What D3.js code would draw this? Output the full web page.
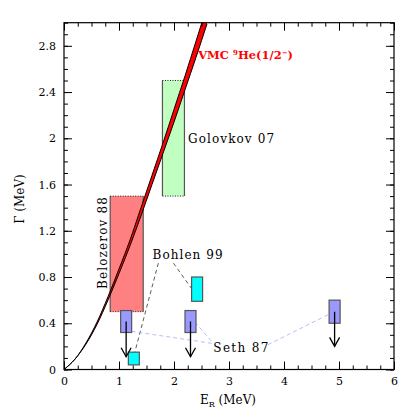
<!DOCTYPE html>
<html><head><meta charset="utf-8">
<script src="https://cdn.jsdelivr.net/npm/d3@7"></script>
<style>body{margin:0;background:#fff}svg{display:block}text{font-family:"DejaVu Serif",serif;}</style>
</head><body>
<svg id="c" width="415" height="415"></svg>
<script>
// VMC band (E_R in MeV, Gamma in MeV)
const curveE     = [0, 0.2, 0.4, 0.6, 0.8, 1.0, 1.2, 1.4, 1.6, 1.8, 2.0, 2.2, 2.4, 2.6];
const curveLow   = [0, 0.09, 0.22, 0.39, 0.60, 0.83, 1.07, 1.33, 1.60, 1.87, 2.14, 2.42, 2.70, 2.99];
const curveHigh  = [0, 0.09, 0.23, 0.41, 0.63, 0.87, 1.12, 1.40, 1.68, 1.96, 2.25, 2.54, 2.84, 3.14];
// experimental boxes: [E0, E1, G0, G1]
const belozerov = [0.84, 1.44, 0.50, 1.50];
const golovkov  = [1.79, 2.19, 1.50, 2.50];
const sethBoxes = [[1.03, 1.23, 0.32, 0.51], [2.20, 2.40, 0.32, 0.51], [4.82, 5.02, 0.40, 0.60]];
const sethArrowTips = [0.11, 0.11, 0.20];
const bohlenBoxes = [[1.17, 1.37, 0.04, 0.15], [2.32, 2.52, 0.59, 0.80]];
const xTicks = [0, 1, 2, 3, 4, 5, 6];
const yTicks = [0, 0.4, 0.8, 1.2, 1.6, 2, 2.4, 2.8];
// annotation leader lines [E0,G0,E1,G1]
const bohlenLines = [[1.715, 0.92, 1.29, 0.154], [1.99, 0.92, 2.32, 0.70]];
const sethLines = [[1.23, 0.33, 2.71, 0.225], [2.38, 0.41, 2.71, 0.23], [3.71, 0.215, 4.87, 0.49]];

const svg = d3.select("#c");
const x = d3.scaleLinear([0, 6], [64, 394]);
const y = d3.scaleLinear([0, 3], [369.5, 22.7]);

svg.append("defs").append("clipPath").attr("id", "clip")
  .append("rect").attr("x", x(0)).attr("y", y(3)).attr("width", x(6) - x(0)).attr("height", y(0) - y(3));

const plot = svg.append("g").attr("clip-path", "url(#clip)");

function box(b, fill, dottedTB) {
  const g = plot.append("g");
  g.append("rect").attr("x", x(b[0])).attr("y", y(b[3])).attr("width", x(b[1]) - x(b[0])).attr("height", y(b[2]) - y(b[3]))
    .attr("fill", fill).attr("stroke", dottedTB ? "none" : "#555").attr("stroke-width", 1.2);
  if (dottedTB) {
    g.append("line").attr("x1", x(b[0])).attr("x2", x(b[0])).attr("y1", y(b[2])).attr("y2", y(b[3])).attr("stroke", "#555").attr("stroke-width", 1.2);
    g.append("line").attr("x1", x(b[1])).attr("x2", x(b[1])).attr("y1", y(b[2])).attr("y2", y(b[3])).attr("stroke", "#555").attr("stroke-width", 1.2);
    [b[2], b[3]].forEach(v => g.append("line").attr("x1", x(b[0])).attr("x2", x(b[1])).attr("y1", y(v)).attr("y2", y(v))
      .attr("stroke", "#000").attr("stroke-width", 0.9).attr("stroke-dasharray", "1,1.5"));
  }
}
box(belozerov, "#ff8080", true);
box(golovkov, "#c0ffc0", true);

// VMC band
const pts = curveE.map((e, i) => ({e, lo: curveLow[i], hi: curveHigh[i]}));
plot.append("path").datum(pts)
  .attr("d", d3.area().x(d => x(d.e)).y0(d => y(d.lo)).y1(d => y(d.hi)).curve(d3.curveMonotoneX))
  .attr("fill", "#ff0000").attr("stroke", "none");
["lo", "hi"].forEach(k => plot.append("path").datum(pts)
  .attr("d", d3.line().x(d => x(d.e)).y(d => y(d[k])).curve(d3.curveMonotoneX))
  .attr("fill", "none").attr("stroke", "#000").attr("stroke-width", 1));

// leader lines
bohlenLines.forEach(l => plot.append("line").attr("x1", x(l[0])).attr("y1", y(l[1])).attr("x2", x(l[2])).attr("y2", y(l[3]))
  .attr("stroke", "#333").attr("stroke-width", 0.8).attr("stroke-dasharray", "4,3"));
sethLines.forEach(l => plot.append("line").attr("x1", x(l[0])).attr("y1", y(l[1])).attr("x2", x(l[2])).attr("y2", y(l[3]))
  .attr("stroke", "#a8a8ff").attr("stroke-width", 0.8).attr("stroke-dasharray", "4,3"));

bohlenBoxes.forEach(b => box(b, "#00ffff", false));
sethBoxes.forEach((b, i) => {
  box(b, "#9999ff", false);
  const cx = x((b[0] + b[1]) / 2), top = y((b[2] + b[3]) / 2), tip = y(sethArrowTips[i]);
  plot.append("line").attr("x1", cx).attr("x2", cx).attr("y1", top).attr("y2", tip).attr("stroke", "#000").attr("stroke-width", 1.3);
  plot.append("path").attr("d", `M${cx - 5},${tip - 9}L${cx},${tip}L${cx + 5},${tip - 9}`)
    .attr("fill", "none").attr("stroke", "#000").attr("stroke-width", 1.3);
});

// frame + ticks
svg.append("rect").attr("x", x(0)).attr("y", y(3)).attr("width", x(6) - x(0)).attr("height", y(0) - y(3))
  .attr("fill", "none").attr("stroke", "#000").attr("stroke-width", 1.2);

function axis(gen, tf, ticks, minor, labels) {
  const gMin = svg.append("g").attr("transform", tf).call(gen.tickValues(minor).tickSize(-4).tickFormat(""));
  gMin.select(".domain").remove();
  const gMaj = svg.append("g").attr("transform", tf).call(gen.tickValues(ticks).tickSize(-8).tickPadding(labels ? 8 : 0).tickFormat(labels ? d3.format("") : ""));
  gMaj.select(".domain").remove();
  gMaj.selectAll("text").attr("font-family", "DejaVu Serif").attr("font-size", 11).attr("fill", "#000");
  svg.selectAll(".tick line").attr("stroke", "#000").attr("stroke-width", 1);
}
const xMinor = d3.range(0, 6.001, 0.25);
const yMinor = d3.range(0, 3.001, 0.1);
const yMajor = d3.range(0, 3.001, 0.4);
axis(d3.axisBottom(x), `translate(0,${y(0)})`, xTicks, xMinor, true);
axis(d3.axisTop(x), `translate(0,${y(3)})`, xTicks, xMinor, false);
axis(d3.axisLeft(y), `translate(${x(0)},0)`, yTicks, yMinor, true);
axis(d3.axisRight(y), `translate(${x(6)},0)`, yMajor, yMinor, false);

// axis titles
const yt = svg.append("text").attr("transform", `translate(24,199) rotate(-90)`).attr("text-anchor", "middle")
  .attr("font-size", 12).text("Γ (MeV)");
const xt = svg.append("text").attr("x", 200).attr("y", 404).attr("font-size", 12);
xt.append("tspan").text("E");
xt.append("tspan").attr("font-size", 8).attr("dy", 3).text("R");
xt.append("tspan").attr("dy", -3).text(" (MeV)");

// labels
const vmc = svg.append("text").attr("x", x(2.44)).attr("y", y(2.683)).attr("fill", "#ff0000").attr("font-size", 11.5).attr("font-weight", "bold");
vmc.append("tspan").text("VMC ");
vmc.append("tspan").attr("font-size", 7).attr("dy", -4).text("9");
vmc.append("tspan").attr("dy", 4).text("He(1/2");
vmc.append("tspan").attr("font-size", 7).attr("dy", -4).text("−");
vmc.append("tspan").attr("dy", 4).text(")");

svg.append("text").attr("x", x(2.255)).attr("y", y(1.957)).attr("font-size", 12)
  .attr("textLength", 86).attr("lengthAdjust", "spacing").text("Golovkov 07");
svg.append("text").attr("transform", `translate(${x(0.718) + 4},${y(1.094)}) rotate(-90)`).attr("text-anchor", "middle")
  .attr("font-size", 12).attr("textLength", 92).attr("lengthAdjust", "spacing").text("Belozerov 88");
svg.append("text").attr("x", x(1.61)).attr("y", y(0.956)).attr("font-size", 12)
  .attr("textLength", 70).attr("lengthAdjust", "spacing").text("Bohlen 99");
svg.append("text").attr("x", x(2.715)).attr("y", y(0.154)).attr("font-size", 12)
  .attr("textLength", 55).attr("lengthAdjust", "spacing").text("Seth 87");
</script>
</body></html>
